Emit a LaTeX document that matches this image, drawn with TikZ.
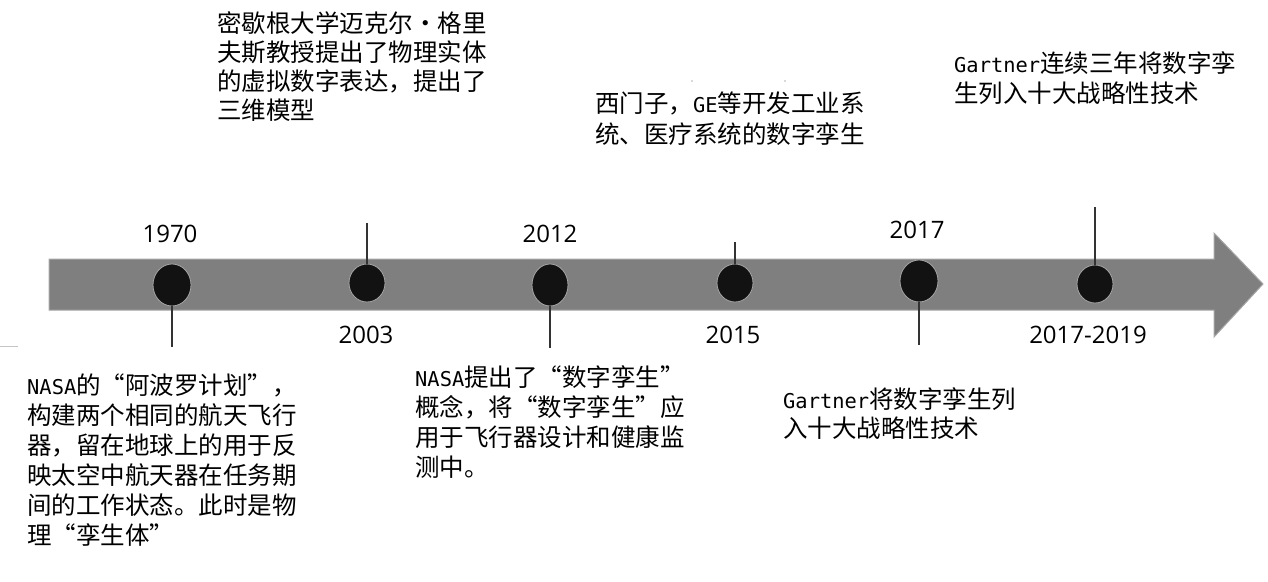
\documentclass[tikz,border=0pt]{standalone}
\usepackage{fontspec}
\usetikzlibrary{shapes.geometric}
\newfontfamily\cjkfont{Noto Sans CJK SC}
\newfontfamily\latfont{DejaVu Sans Mono}[Scale=0.833]
\newfontfamily\yearfont{Open Sans}
\newcommand\lat[1]{{\latfont #1}}
\newcommand\cnlq{\makebox[1em][r]{“}}
\newcommand\cnrq{\makebox[1em][l]{”}}
\newcommand\cndot{\makebox[1em]{·}}
\definecolor{bar}{HTML}{7F7F7F}
\definecolor{barline}{HTML}{A6A6A6}
\begin{document}
\begin{tikzpicture}[x=1pt,y=-1pt,
  event/.style={ellipse,fill=black!93,draw=gray!70,line width=0.8pt,inner sep=0pt},
  stick/.style={draw=black!80,line width=1.3pt},
  year/.style={font=\yearfont\fontsize{24}{28}\selectfont,inner sep=0pt,anchor=base},
  memo/.style={font=\cjkfont\fontsize{24.5}{#1}\selectfont,align=left,inner sep=0pt,anchor=base west},
  memo/.default=30]
\useasboundingbox (0,0) rectangle (1268,581);

\draw[fill=bar,draw=barline,line width=1pt] (49,259) -- (1214,259) -- (1214,233) -- (1263,284) -- (1214,337) -- (1214,310) -- (49,310) -- cycle;
\foreach \n/\x/\y/\w/\h/\e in {a/172/285/38/42/347,b/367/283/36/38/223,c/550/285/36/42/348,d/735/283/36/38/242,e/919/281/38/42/345,f/1095/284/36/38/207}{
\node[event,minimum width=\w,minimum height=\h] (\n) at (\x,\y) {};
\coordinate (\n end) at (\x,\e);
\draw[stick] (\n) -- (\n end);
}

\node[year] (y1970) at (170,242) {1970};
\node[year] (y2003) at (366,343) {2003};
\node[year] (y2012) at (550,242) {2012};
\node[year] (y2015) at (733,343) {2015};
\node[year] (y2017) at (917,238) {2017};
\node[year] (y2019) at (1088,343) {2017-2019};

\node[memo] (t1970) at (27,544) {\lat{NASA}的\cnlq 阿波罗计划\cnrq ，\\构建两个相同的航天飞行\\器，留在地球上的用于反\\映太空中航天器在任务期\\间的工作状态。此时是物\\理\cnlq 孪生体\cnrq};
\node[memo=29] (t2003) at (217,119) {密歇根大学迈克尔\cndot 格里\\夫斯教授提出了物理实体\\的虚拟数字表达，提出了\\三维模型};
\node[memo] (t2012) at (415,476) {\lat{NASA}提出了\cnlq 数字孪生\cnrq\\概念，将\cnlq 数字孪生\cnrq 应\\用于飞行器设计和健康监\\测中。};
\node[memo=31] (t2015) at (595,143) {西门子，\lat{GE}等开发工业系\\统、医疗系统的数字孪生};
\node[memo=29] (t2017) at (783,437) {\lat{Gartner}将数字孪生列\\入十大战略性技术};
\node[memo] (t2019) at (954,102) {\lat{Gartner}连续三年将数字孪\\生列入十大战略性技术};

\draw[gray!45,line width=1pt] (0,346) -- (18,346);
\fill[gray!60] (692,81) circle (0.8);
\fill[gray!60] (785,81) circle (0.8);
\end{tikzpicture}
\end{document}
